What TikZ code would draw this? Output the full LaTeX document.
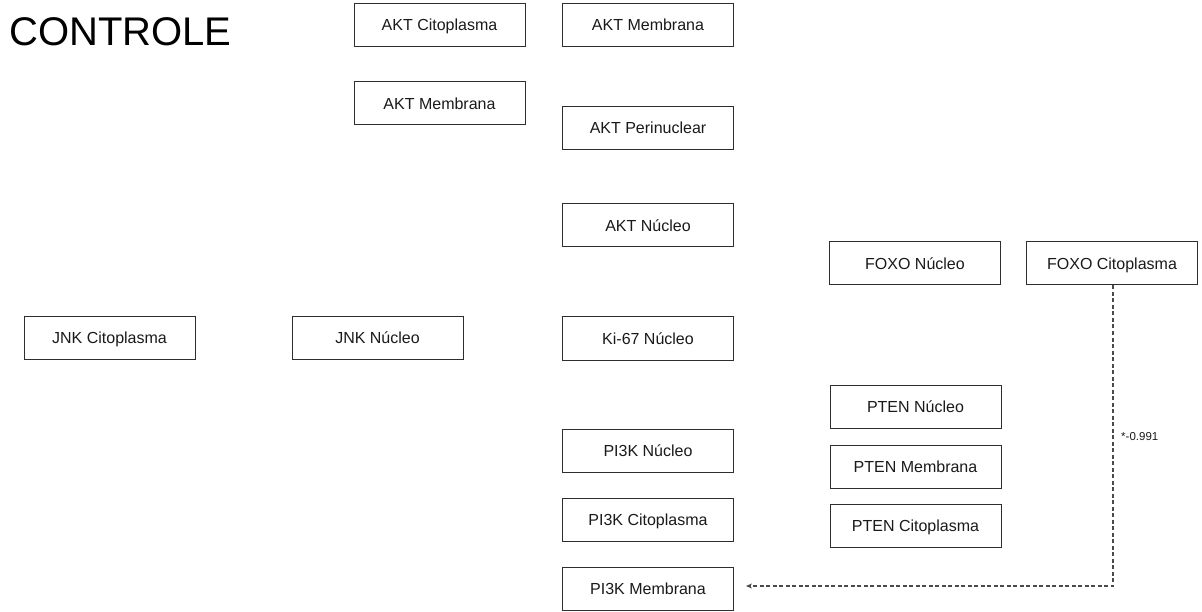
\documentclass[tikz,border=0pt]{standalone}
\usepackage{fontspec}
\setmainfont{Liberation Sans}
\usetikzlibrary{arrows.meta}
\definecolor{boxline}{HTML}{2E2E2E}
\definecolor{txt}{HTML}{1A1A1A}
\definecolor{conncol}{HTML}{4A4A4A}
\begin{document}
\begin{tikzpicture}[x=1pt,y=-1pt,
  box/.style={draw=boxline, line width=1pt, rectangle, minimum width=171pt,
    minimum height=43pt, inner sep=0pt, text=txt, text height=11.5pt, text depth=0pt,
    font=\fontsize{16}{18}\selectfont},
  conn/.style={draw=conncol, line width=1.2pt, dash pattern=on 4pt off 2.5pt,
    -{Stealth[length=6pt,width=5pt]}},
  lbl/.style={text=txt, font=\fontsize{11.5}{13}\selectfont, inner sep=0pt}]
\useasboundingbox (0,0) rectangle (1202,612);
\fill[white] (0,0) rectangle (1202,612);

\node[anchor=west, text=black, font=\fontsize{40}{44}\selectfont, inner sep=0pt] (title) at (9,32) {CONTROLE};

% AKT column
\node[box] (aktcito) at (439.5,25) {AKT Citoplasma};
\node[box] (aktmemA) at (439.5,103.5) {AKT Membrana};
\node[box] (aktmemB) at (648,25) {AKT Membrana};
\node[box] (aktperi) at (648,128) {AKT Perinuclear};
\node[box] (aktnuc) at (648,225.5) {AKT Núcleo};

% JNK and Ki-67
\node[box] (jnkcito) at (109.5,338) {JNK Citoplasma};
\node[box] (jnknuc) at (377.5,338) {JNK Núcleo};
\node[box] (ki67) at (648,338.5) {Ki-67 Núcleo};

% PI3K column
\node[box] (pi3knuc) at (648,450.5) {PI3K Núcleo};
\node[box] (pi3kcito) at (648,519.5) {PI3K Citoplasma};
\node[box] (pi3kmem) at (648,588.5) {PI3K Membrana};

% FOXO
\node[box] (foxonuc) at (915,263.5) {FOXO Núcleo};
\node[box] (foxocito) at (1112,263.5) {FOXO Citoplasma};

% PTEN column
\node[box] (ptennuc) at (915.5,407) {PTEN Núcleo};
\node[box] (ptenmem) at (915.5,467) {PTEN Membrana};
\node[box] (ptencito) at (915.5,526) {PTEN Citoplasma};

% correlation connector
\draw[conn, shorten >=12pt] ([xshift=1pt]foxocito.south) |- ([yshift=2.5pt]pi3kmem.east);
\node[lbl, anchor=west] (corr) at (1121,437) {*-0.991};
\end{tikzpicture}
\end{document}
